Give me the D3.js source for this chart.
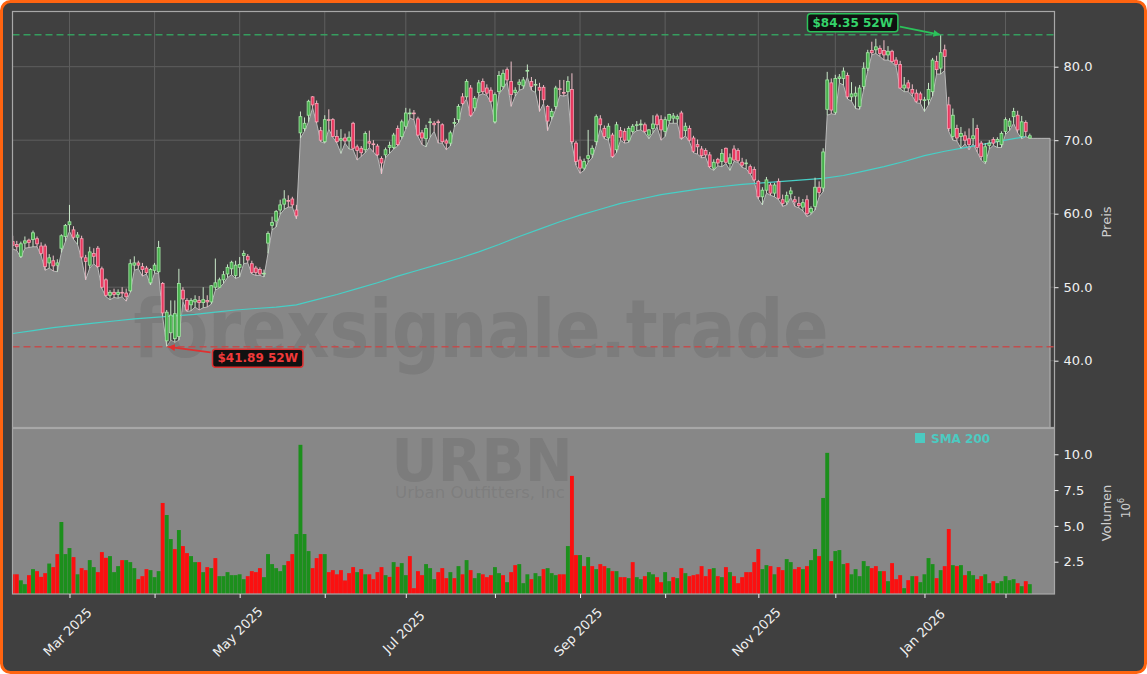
<!DOCTYPE html>
<html><head><meta charset="utf-8">
<script src="https://cdn.jsdelivr.net/npm/d3@7"></script>
<style>body{margin:0;background:#ffffff;} svg{display:block;font-family:"DejaVu Sans",sans-serif;}</style>
</head><body><svg id="c" width="1147" height="674"></svg>
<script>
// ---------------- DATA ----------------
const ticker = "URBN";
const companyName = "Urban Outfitters, Inc";
const watermark = "forexsignale.trade";
const startDate = "2025-02-10";
const holidays = ["2025-02-17","2025-04-18","2025-05-26","2025-06-19","2025-07-04","2025-09-01","2025-11-27","2025-12-25","2026-01-01","2026-01-19"];
const open = [
56.2,55.8,54.2,56.0,56.4,56.5,56.6,55.6,55.6,53.3,
53.6,53.0,55.3,56.9,58.5,57.8,56.8,56.6,54.0,53.0,
54.6,55.3,52.5,51.0,48.9,49.3,49.0,49.3,49.2,49.5,
53.0,53.3,52.8,52.6,50.6,52.3,52.1,50.5,42.7,43.8,
43.0,43.3,49.6,48.2,47.6,48.0,48.2,47.9,48.2,48.0,
50.0,50.0,51.0,51.8,52.5,51.6,52.7,54.3,54.2,53.2,
52.6,52.4,51.8,56.0,58.4,59.0,60.5,61.3,61.8,62.0,
60.5,71.0,71.6,73.4,75.9,75.0,71.3,69.8,72.8,72.8,
70.5,70.0,70.3,69.9,72.3,69.1,68.9,68.7,69.8,69.5,
69.2,67.5,68.0,69.0,69.0,71.6,70.5,71.9,73.6,73.7,
72.9,71.0,70.2,72.4,72.3,72.5,72.1,69.9,69.6,72.3,
72.8,75.9,75.9,77.1,74.4,76.5,78.0,77.1,76.8,72.5,
76.6,77.3,79.6,78.0,76.5,77.6,77.4,79.4,78.0,77.5,
77.2,77.2,74.6,73.2,74.6,77.0,76.5,76.6,76.9,69.6,
67.3,66.2,67.5,68.1,69.8,72.9,71.6,70.3,70.7,68.7,
71.3,71.2,70.0,71.2,72.0,72.1,72.1,70.7,71.6,73.3,
72.8,71.2,72.7,73.0,72.9,73.7,71.3,71.6,70.3,69.4,
68.8,68.6,68.0,66.2,67.4,67.1,68.9,66.8,68.8,68.6,
67.0,66.8,66.4,66.0,64.4,62.3,63.2,63.9,62.8,64.4,
61.9,61.6,62.7,61.9,61.4,60.9,61.9,60.2,61.0,63.6,
63.5,74.2,77.8,73.8,78.4,78.4,78.8,75.9,76.0,74.6,
77.3,79.8,82.2,82.3,82.5,82.2,81.6,82.1,80.9,80.3,
77.1,77.8,76.9,76.4,76.3,75.4,75.5,76.6,80.7,79.8,
82.3,74.8,70.5,71.6,70.5,70.6,70.2,70.2,71.6,69.6,
67.1,69.3,70.1,69.8,69.4,71.2,71.9,73.2,73.4,70.5,
72.4,70.3];
const high = [
57.0,56.3,56.2,56.9,56.6,57.7,56.9,56.1,55.9,54.5,
54.3,53.8,57.2,58.6,61.2,58.3,57.5,57.0,54.4,55.5,
55.3,55.6,52.8,51.2,49.6,49.8,49.7,50.0,49.8,53.8,
54.2,53.6,53.3,52.9,52.6,53.3,56.3,50.7,46.9,48.2,
48.2,52.5,50.0,48.5,48.5,48.9,48.8,50.0,48.9,50.3,
53.9,51.3,52.2,53.1,53.6,53.6,54.1,55.0,54.5,53.6,
52.9,52.7,52.4,57.6,59.6,60.5,61.9,63.2,62.5,62.3,
61.2,73.9,73.1,75.5,76.0,75.4,71.8,73.4,74.2,73.0,
71.4,71.5,70.9,71.2,72.5,69.4,69.2,71.2,71.3,70.0,
69.5,67.8,69.0,69.8,71.0,72.0,72.8,74.4,74.3,74.1,
73.2,71.4,72.1,73.0,72.6,72.8,72.3,70.2,71.3,73.0,
74.9,76.4,78.3,77.5,76.0,78.2,78.4,77.6,77.2,76.5,
79.4,79.6,79.9,80.7,77.2,78.3,78.6,80.3,78.6,78.3,
77.8,77.5,74.8,74.3,77.4,78.2,78.2,78.7,79.1,69.9,
67.8,67.5,71.4,69.3,73.5,73.4,72.0,72.3,71.0,72.5,
71.8,71.6,71.9,72.2,72.6,72.8,72.4,71.5,73.4,73.6,
73.4,73.2,73.6,73.7,73.5,74.0,72.4,72.0,70.6,70.1,
69.2,68.9,68.4,67.4,67.6,68.8,69.0,68.2,69.3,68.9,
67.6,67.4,66.7,66.4,64.6,63.6,65.0,64.2,64.2,64.8,
62.6,63.0,63.6,62.4,62.3,62.0,62.5,61.0,64.9,64.4,
68.9,79.3,78.4,78.9,79.0,79.9,79.2,77.9,77.3,77.5,
80.6,82.3,83.4,83.8,82.9,83.6,82.8,82.3,81.3,80.8,
78.6,78.2,77.6,76.9,76.6,75.9,77.8,81.2,81.5,84.35,
83.0,75.9,74.3,72.1,71.8,71.2,71.6,73.0,72.1,69.9,
69.6,70.0,70.4,70.4,71.2,73.1,73.0,74.4,74.0,73.3,
72.7,70.9];
const low = [
55.2,55.0,54.0,55.3,55.4,55.5,55.5,54.3,52.3,52.6,
52.2,52.1,54.7,56.2,57.6,56.5,55.8,53.8,51.0,52.6,
53.2,52.6,49.8,48.7,48.3,48.6,48.5,48.7,48.1,49.3,
52.3,52.5,51.5,51.8,50.3,51.9,51.9,46.0,41.89,42.8,
42.5,42.8,48.0,46.7,46.8,47.3,46.9,47.2,47.3,47.7,
49.6,49.9,50.5,51.3,51.7,51.2,51.4,53.2,53.3,51.8,
51.6,51.6,51.4,54.6,57.8,58.2,59.9,60.6,60.9,60.9,
59.3,70.3,71.2,72.5,74.4,72.3,69.8,69.6,71.5,70.4,
69.6,68.2,69.6,68.8,68.7,67.3,67.8,68.3,69.0,68.4,
67.8,65.4,67.6,68.2,68.8,69.2,70.2,71.5,73.0,72.8,
70.5,69.4,69.1,70.4,71.2,69.6,69.6,68.7,69.2,71.8,
72.4,74.8,75.6,73.2,74.0,76.1,76.3,76.1,75.1,72.3,
76.3,77.0,77.9,74.6,76.0,76.8,77.0,78.6,76.8,76.5,
73.9,75.0,71.3,72.8,74.2,76.1,76.0,76.2,69.5,66.6,
65.5,65.9,67.0,67.6,69.3,71.6,70.2,70.0,67.6,68.3,
70.0,69.6,69.7,70.9,71.3,71.4,71.0,70.2,71.0,71.8,
70.0,70.5,72.3,72.3,72.3,70.1,70.6,69.8,68.3,68.1,
67.6,67.7,66.2,65.9,66.5,66.4,66.8,65.9,67.1,67.0,
66.3,66.1,65.4,64.4,62.0,61.2,62.8,62.5,62.3,61.9,
61.0,61.2,62.2,61.0,60.8,60.4,59.6,59.9,60.5,62.3,
63.0,73.4,73.6,73.5,77.8,77.5,75.6,75.3,74.3,74.2,
76.9,79.4,81.6,81.8,81.4,80.9,80.9,80.6,80.0,77.0,
76.6,76.6,76.0,75.1,75.0,73.9,74.8,76.0,79.0,79.0,
79.5,71.2,70.0,69.9,68.9,69.5,68.7,69.5,68.4,67.3,
66.8,68.8,69.3,69.0,69.0,70.8,71.3,72.3,71.0,70.2,
70.5,70.25];
const close = [
55.7,55.5,55.9,56.3,56.1,57.4,55.9,54.6,52.8,54.0,
52.9,53.3,57.0,58.4,58.9,56.8,57.1,54.1,53.5,54.8,
54.2,52.8,50.0,48.9,49.3,49.0,49.3,49.2,48.7,53.2,
53.3,53.0,52.4,52.0,52.4,53.0,55.4,46.5,46.6,46.2,
46.4,50.5,48.4,46.9,48.2,48.3,47.9,48.3,48.0,50.2,
50.6,51.0,51.7,52.7,53.4,53.0,53.1,54.6,53.7,52.0,
52.0,51.8,51.9,57.3,58.8,60.3,61.2,62.0,61.7,61.2,
59.7,73.2,72.3,75.3,74.8,72.5,70.0,72.8,72.7,70.5,
69.8,70.2,69.9,70.4,68.9,68.6,68.3,70.9,69.6,69.4,
68.0,66.9,68.7,69.3,70.7,69.4,72.5,73.7,73.7,73.6,
70.7,70.3,71.6,72.5,72.1,72.4,69.8,69.6,71.0,72.4,
74.6,75.0,78.0,73.4,75.7,77.8,76.6,76.4,75.3,76.2,
78.8,79.1,78.2,76.2,76.8,77.9,78.2,79.5,77.3,77.6,
76.8,75.5,72.6,73.9,77.1,76.9,76.4,78.0,69.8,67.1,
66.2,67.1,67.9,68.9,73.2,72.1,70.5,71.9,67.8,72.1,
70.4,70.0,71.6,71.9,72.1,72.2,71.2,71.4,72.2,72.1,
71.4,72.8,73.5,73.3,73.2,70.3,71.9,70.0,68.5,69.1,
67.9,68.0,66.4,67.0,66.9,68.2,67.0,67.6,67.3,67.2,
66.6,66.9,65.5,64.6,62.3,63.2,64.6,62.8,63.9,62.1,
61.4,62.5,63.1,61.6,61.1,61.5,60.0,60.7,63.6,62.9,
68.4,78.2,74.1,78.4,78.6,79.4,75.9,76.3,76.4,77.1,
79.8,81.9,81.9,82.7,81.8,81.6,82.1,80.7,80.3,77.1,
77.5,77.1,76.4,75.3,75.5,75.5,76.9,80.9,79.6,81.9,
81.4,71.6,73.4,70.3,70.9,70.0,69.4,70.6,69.0,67.8,
69.1,69.6,69.6,70.1,70.9,72.8,72.6,73.9,71.4,72.5,
71.2,70.6];
// volume in millions
const volume = [
1.62,1.62,1.2,0.93,1.56,1.98,1.84,1.44,1.70,2.37,
2.12,3.03,5.27,3.03,3.45,2.82,1.62,2.05,1.91,2.61,
2.12,1.77,3.17,2.77,2.89,1.77,2.19,2.61,2.61,2.47,
2.05,1.28,1.49,1.98,1.91,1.42,1.84,6.60,5.76,4.08,
3.38,4.71,3.59,3.10,2.89,2.47,2.47,1.77,2.12,2.05,
2.75,1.49,1.49,1.77,1.56,1.56,1.62,1.28,1.49,1.84,
1.77,2.05,1.42,3.03,2.33,2.05,1.84,2.26,2.54,3.03,
4.43,10.66,4.43,3.24,2.05,2.75,3.03,3.03,1.77,1.91,
1.62,1.91,1.19,1.70,2.12,1.77,1.98,1.62,1.62,1.28,
1.77,2.12,1.56,1.44,2.47,2.14,2.40,1.56,2.89,0.65,
1.84,1.56,2.33,2.05,1.28,1.77,2.05,1.35,1.77,1.35,
2.19,1.62,2.61,1.91,1.35,1.70,1.62,1.42,1.56,2.12,
1.70,1.56,1.07,1.77,2.26,2.33,1.00,1.62,1.28,1.70,
1.49,1.98,2.05,1.70,1.56,1.62,1.62,3.59,8.49,2.96,
2.96,2.19,2.82,2.19,1.98,2.33,2.19,2.05,1.84,1.84,
1.42,1.42,1.35,2.47,1.42,1.28,1.49,1.77,1.62,1.42,
1.07,1.77,1.14,1.42,1.35,2.05,1.70,1.49,1.56,1.62,
2.19,1.49,1.98,2.05,1.49,1.42,2.12,1.77,1.49,1.00,
1.42,1.77,1.77,2.47,3.38,1.98,2.26,2.19,1.62,2.12,
1.91,2.68,2.47,1.98,2.12,1.98,2.19,2.61,3.38,2.89,
6.95,10.10,2.54,3.24,3.31,2.33,2.40,1.62,1.98,1.49,
2.54,2.19,2.05,2.19,1.84,1.84,1.14,2.40,1.28,1.56,
0.65,1.21,1.49,1.49,1.07,1.62,2.75,2.33,1.35,1.91,
2.19,4.78,2.26,2.19,2.26,1.56,1.84,1.56,1.28,1.49,
1.62,1.00,1.14,1.00,1.14,1.49,1.21,1.28,1.00,0.79,
1.14,0.93];
// volume bar direction (G = up day, R = down day)
const volDir = (
"RRGGRGRRRG"+"RRGGGRGRRG"+"GRRRGGGRGG"+"GRRRGGGRGG"+"RGRRGGRGRG"+
"RGGGGGGGRR"+"RRGGGGGGRR"+"GGGGRRRGRR"+"RRRRRGRGRR"+"RRGRGRGGRR"+
"RRGGGRRRGR"+"GRGRGGRRRG"+"GRGRRGGGRG"+"GRGGGRRGRR"+"GRGRGRRGRG"+
"RRGRGGRGGR"+"RGGRGRGRRR"+"RRRGRGRGRR"+"RRRRRGGRGR"+"RGGRRGRGGR"+
"GGRGGGRGGG"+"GGRRGRGRRR"+"GRGRGGGGRG"+"RRGRGRGGRR"+"GGRGGGGGRG"+"RG").split("");
// SMA 200 sampled every 5 trading days
const smaStep = 5;
const sma200 = [
43.7,44.1,44.5,44.8,45.1,45.4,45.7,45.9,46.1,46.3,
46.6,46.9,47.1,47.3,47.6,48.3,49.0,49.8,50.6,51.5,
52.3,53.1,53.9,54.8,55.8,56.9,57.9,58.9,59.8,60.6,
61.4,62.0,62.6,63.0,63.4,63.7,64.0,64.2,64.4,64.6,
64.8,65.2,65.8,66.4,67.1,67.9,68.5,69.0,69.5,70.0,
70.5];
const priceTicks = [40, 50, 60, 70, 80];
const volTicks = [2.5, 5, 7.5, 10];
const priceLabel = "Preis";
const volLabel = "Volumen";
const legendLabel = "SMA 200";

// ---------------- LAYOUT ----------------
const W = 1147, H = 674;
const L = 12.5, R = 1054.5, PT = 11.5, PB = 427.5, VT = 428.5, VB = 594;
const n = close.length;
const tail = 5;

// trading calendar
const parse = d3.utcParse("%Y-%m-%d"), iso = d3.utcFormat("%Y-%m-%d");
const hol = new Set(holidays);
const dates = [];
let d = parse(startDate);
while (dates.length < n) {
  const wd = d.getUTCDay();
  if (wd !== 0 && wd !== 6 && !hol.has(iso(d))) dates.push(d);
  d = d3.utcDay.offset(d, 1);
}
const monthTicks = [];
for (let i = 1; i < n; i++) if (dates[i].getUTCMonth() !== dates[i-1].getUTCMonth()) monthTicks.push(i);
const fmtMonth = d3.utcFormat("%b %Y");

const x = d3.scaleLinear().domain([-0.06, 257.09]).range([L, R]);
const y = d3.scaleLinear().domain([30.91, 87.51]).range([PB, PT]);
const yv = d3.scaleLinear().domain([0.244, 11.80]).range([VB, VT]);
const step = x(1) - x(0);

const svg = d3.select("#c");
const defs = svg.append("defs");
defs.append("clipPath").attr("id", "cp").append("rect").attr("x", L).attr("y", PT).attr("width", R - L).attr("height", PB - PT);
defs.append("clipPath").attr("id", "cv").append("rect").attr("x", L).attr("y", VT).attr("width", R - L).attr("height", VB - VT);
function marker(id, col) {
  defs.append("marker").attr("id", id).attr("viewBox", "0 0 10 10").attr("refX", 9).attr("refY", 5)
    .attr("markerWidth", 7).attr("markerHeight", 7).attr("markerUnits", "userSpaceOnUse").attr("orient", "auto")
    .append("path").attr("d", "M0,0 L10,5 L0,10 z").attr("fill", col);
}
marker("ag", "#2bc25a");
marker("ar", "#e03030");

// figure background + orange frame
svg.append("rect").attr("x", 1.5).attr("y", 1.5).attr("width", W - 3).attr("height", H - 3).attr("rx", 9)
  .attr("fill", "#404040").attr("stroke", "#ff6410").attr("stroke-width", 3);

// ---------- price panel ----------
const gp = svg.append("g").attr("clip-path", "url(#cp)");
// grid
gp.selectAll("line.hg").data(priceTicks).join("line").attr("x1", L).attr("x2", R)
  .attr("y1", v => y(v)).attr("y2", v => y(v)).attr("stroke", "#5e5e5e").attr("stroke-width", 1);
gp.selectAll("line.vg").data(monthTicks).join("line").attr("y1", PT).attr("y2", PB)
  .attr("x1", i => x(i)).attr("x2", i => x(i)).attr("stroke", "#5e5e5e").attr("stroke-width", 1);

// area along lows
const areaPts = low.map((v, i) => [i, v]);
for (let k = 1; k <= tail; k++) areaPts.push([n - 1 + k, low[n - 1]]);
const area = d3.area().x(p => x(p[0])).y0(PB + 2).y1(p => y(p[1]));
gp.append("path").datum(areaPts).attr("d", area).attr("fill", "#878787");
const lastX = x(n - 1 + tail);
const edge = d3.line().x(p => x(p[0])).y(p => y(p[1]))(areaPts) + `L${lastX},${PB + 2}`;
gp.append("path").attr("d", edge).attr("fill", "none").attr("stroke", "#b9b9b9").attr("stroke-width", 1);

// watermark
gp.append("text").attr("x", 481).attr("y", 357).attr("text-anchor", "middle")
  .attr("font-size", 80).attr("font-weight", "bold").attr("textLength", 695).attr("lengthAdjust", "spacingAndGlyphs")
  .attr("fill", "#505050").attr("fill-opacity", 0.2).text(watermark);

// SMA
gp.append("path").datum(sma200).attr("fill", "none").attr("stroke", "#46cfc6").attr("stroke-width", 1.2)
  .attr("d", d3.line().x((v, k) => x(k * smaStep)).y(v => y(v)));

// candles
const cw = step * 0.7;
const cg = gp.append("g");
const idx = d3.range(n);
cg.selectAll("line.wick").data(idx).join("line")
  .attr("x1", i => x(i)).attr("x2", i => x(i)).attr("y1", i => y(high[i])).attr("y2", i => y(low[i]))
  .attr("stroke", i => close[i] >= open[i] ? "#c9e8c9" : "#efc0ca").attr("stroke-width", 1);
cg.selectAll("rect.body").data(idx).join("rect")
  .attr("x", i => x(i) - cw / 2).attr("width", cw)
  .attr("y", i => y(Math.max(open[i], close[i])))
  .attr("height", i => Math.max(0.8, Math.abs(y(open[i]) - y(close[i]))))
  .attr("fill", i => close[i] >= open[i] ? "#46b04c" : "#e8375e")
  .attr("stroke", i => close[i] >= open[i] ? "#a6e6a6" : "#f6a6b7").attr("stroke-width", 0.8);

// 52W lines
const hiV = d3.max(high), loV = d3.min(low);
const hiI = high.indexOf(hiV), loI = low.indexOf(loV);
gp.append("line").attr("x1", L).attr("x2", R).attr("y1", y(hiV)).attr("y2", y(hiV))
  .attr("stroke", "#35a862").attr("stroke-width", 1.5).attr("stroke-dasharray", "7,4").attr("opacity", 0.9);
gp.append("line").attr("x1", L).attr("x2", R).attr("y1", y(loV)).attr("y2", y(loV))
  .attr("stroke", "#c84848").attr("stroke-width", 1.5).attr("stroke-dasharray", "7,4").attr("opacity", 0.9);

// annotations
function annot(i, v, dx, dy, stroke, txtCol, mk, arrowFrom) {
  const px = x(i), py = y(v);
  const cx = px + dx, cy = py + dy;
  const label = "$" + d3.format(".2f")(v) + " 52W";
  const g = svg.append("g");
  const t = g.append("text").attr("x", cx).attr("y", cy).attr("text-anchor", "middle").attr("dominant-baseline", "central")
    .attr("font-size", 12).attr("font-weight", "bold").attr("fill", txtCol).text(label);
  const bb = t.node().getBBox();
  g.insert("rect", "text").attr("x", bb.x - 5).attr("y", cy - 9).attr("width", bb.width + 10).attr("height", 18)
    .attr("rx", 3).attr("fill", "#111111").attr("stroke", stroke).attr("stroke-width", 1.5);
  const sx = arrowFrom === "right" ? bb.x + bb.width + 7 : bb.x - 7;
  const sy = cy + (arrowFrom === "right" ? 4 : -6);
  g.append("line").attr("x1", sx).attr("y1", sy).attr("x2", px + (arrowFrom === "right" ? -1 : 2)).attr("y2", py)
    .attr("stroke", stroke).attr("stroke-width", 1.8).attr("marker-end", `url(#${mk})`);
}
annot(hiI, hiV, -88, -12, "#2bc25a", "#35d36a", "ag", "right");
annot(loI, loV, 91, 11.5, "#e03030", "#f03a3a", "ar", "left");

// ---------- volume panel ----------
svg.append("rect").attr("x", L).attr("y", VT).attr("width", R - L).attr("height", VB - VT).attr("fill", "#878787");
const gv = svg.append("g").attr("clip-path", "url(#cv)");
gv.append("text").attr("x", 482).attr("y", 481).attr("text-anchor", "middle").attr("font-size", 58).attr("font-weight", "bold")
  .attr("textLength", 181).attr("lengthAdjust", "spacingAndGlyphs").attr("fill", "#505050").attr("fill-opacity", 0.2).text(ticker);
gv.append("text").attr("x", 480).attr("y", 498).attr("text-anchor", "middle").attr("font-size", 15)
  .attr("textLength", 170).attr("lengthAdjust", "spacingAndGlyphs").attr("fill", "#505050").attr("fill-opacity", 0.18).text(companyName);
gv.selectAll("rect.vb").data(idx).join("rect")
  .attr("x", i => x(i) - step * 0.48).attr("width", step * 0.96)
  .attr("y", i => yv(volume[i])).attr("height", i => VB - yv(volume[i]))
  .attr("fill", i => volDir[i] === "G" ? "#1c8f1c" : "#fb1010");
// legend
svg.append("rect").attr("x", 915).attr("y", 433).attr("width", 10).attr("height", 10).attr("fill", "#4ccac1");
svg.append("text").attr("x", 931).attr("y", 438.5).attr("dominant-baseline", "central").attr("font-size", 12)
  .attr("font-weight", "bold").attr("fill", "#4ccac1").text(legendLabel);

// ---------- spines ----------
const sp = svg.append("g").attr("fill", "none").attr("stroke", "#a8a8a8").attr("stroke-width", 1.2);
sp.append("rect").attr("x", L).attr("y", PT).attr("width", R - L).attr("height", PB - PT);
sp.append("rect").attr("x", L).attr("y", VT).attr("width", R - L).attr("height", VB - VT);

// ---------- axes ----------
const ay = svg.append("g").attr("transform", `translate(${R},0)`)
  .call(d3.axisRight(y).tickValues(priceTicks).tickFormat(d3.format(".1f")).tickSize(4).tickPadding(5));
const av = svg.append("g").attr("transform", `translate(${R},0)`)
  .call(d3.axisRight(yv).tickValues(volTicks).tickFormat(d3.format(".1f")).tickSize(4).tickPadding(5));
const ax = svg.append("g").attr("transform", `translate(0,${VB})`)
  .call(d3.axisBottom(x).tickValues(monthTicks).tickFormat("").tickSize(4));
[ay, av, ax].forEach(a => {
  a.select(".domain").remove();
  a.selectAll(".tick line").attr("stroke", "#f0f0f0");
  a.selectAll(".tick text").attr("fill", "#f0f0f0").attr("font-size", 13).attr("font-family", "DejaVu Sans");
});
svg.append("g").selectAll("text").data(monthTicks.filter(i => dates[i].getUTCMonth() % 2 === 0)).join("text")
  .attr("transform", i => `translate(${x(i) - 2},632) rotate(-45)`).attr("text-anchor", "middle").attr("dominant-baseline", "central")
  .attr("font-size", 13).attr("fill", "#f0f0f0").text(i => fmtMonth(dates[i]));

// axis titles
svg.append("text").attr("transform", "translate(1106,222) rotate(-90)").attr("text-anchor", "middle").attr("dominant-baseline", "central")
  .attr("font-size", 13).attr("fill", "#cfcfcf").text(priceLabel);
svg.append("text").attr("transform", "translate(1106,513) rotate(-90)").attr("text-anchor", "middle").attr("dominant-baseline", "central")
  .attr("font-size", 13).attr("fill", "#cfcfcf").text(volLabel);
const e6 = svg.append("text").attr("transform", "translate(1126,508) rotate(-90)").attr("text-anchor", "middle").attr("dominant-baseline", "central")
  .attr("font-size", 12).attr("fill", "#cfcfcf");
e6.append("tspan").text("10");
e6.append("tspan").attr("dy", -5).attr("font-size", 8).text("6");
</script></body></html>
